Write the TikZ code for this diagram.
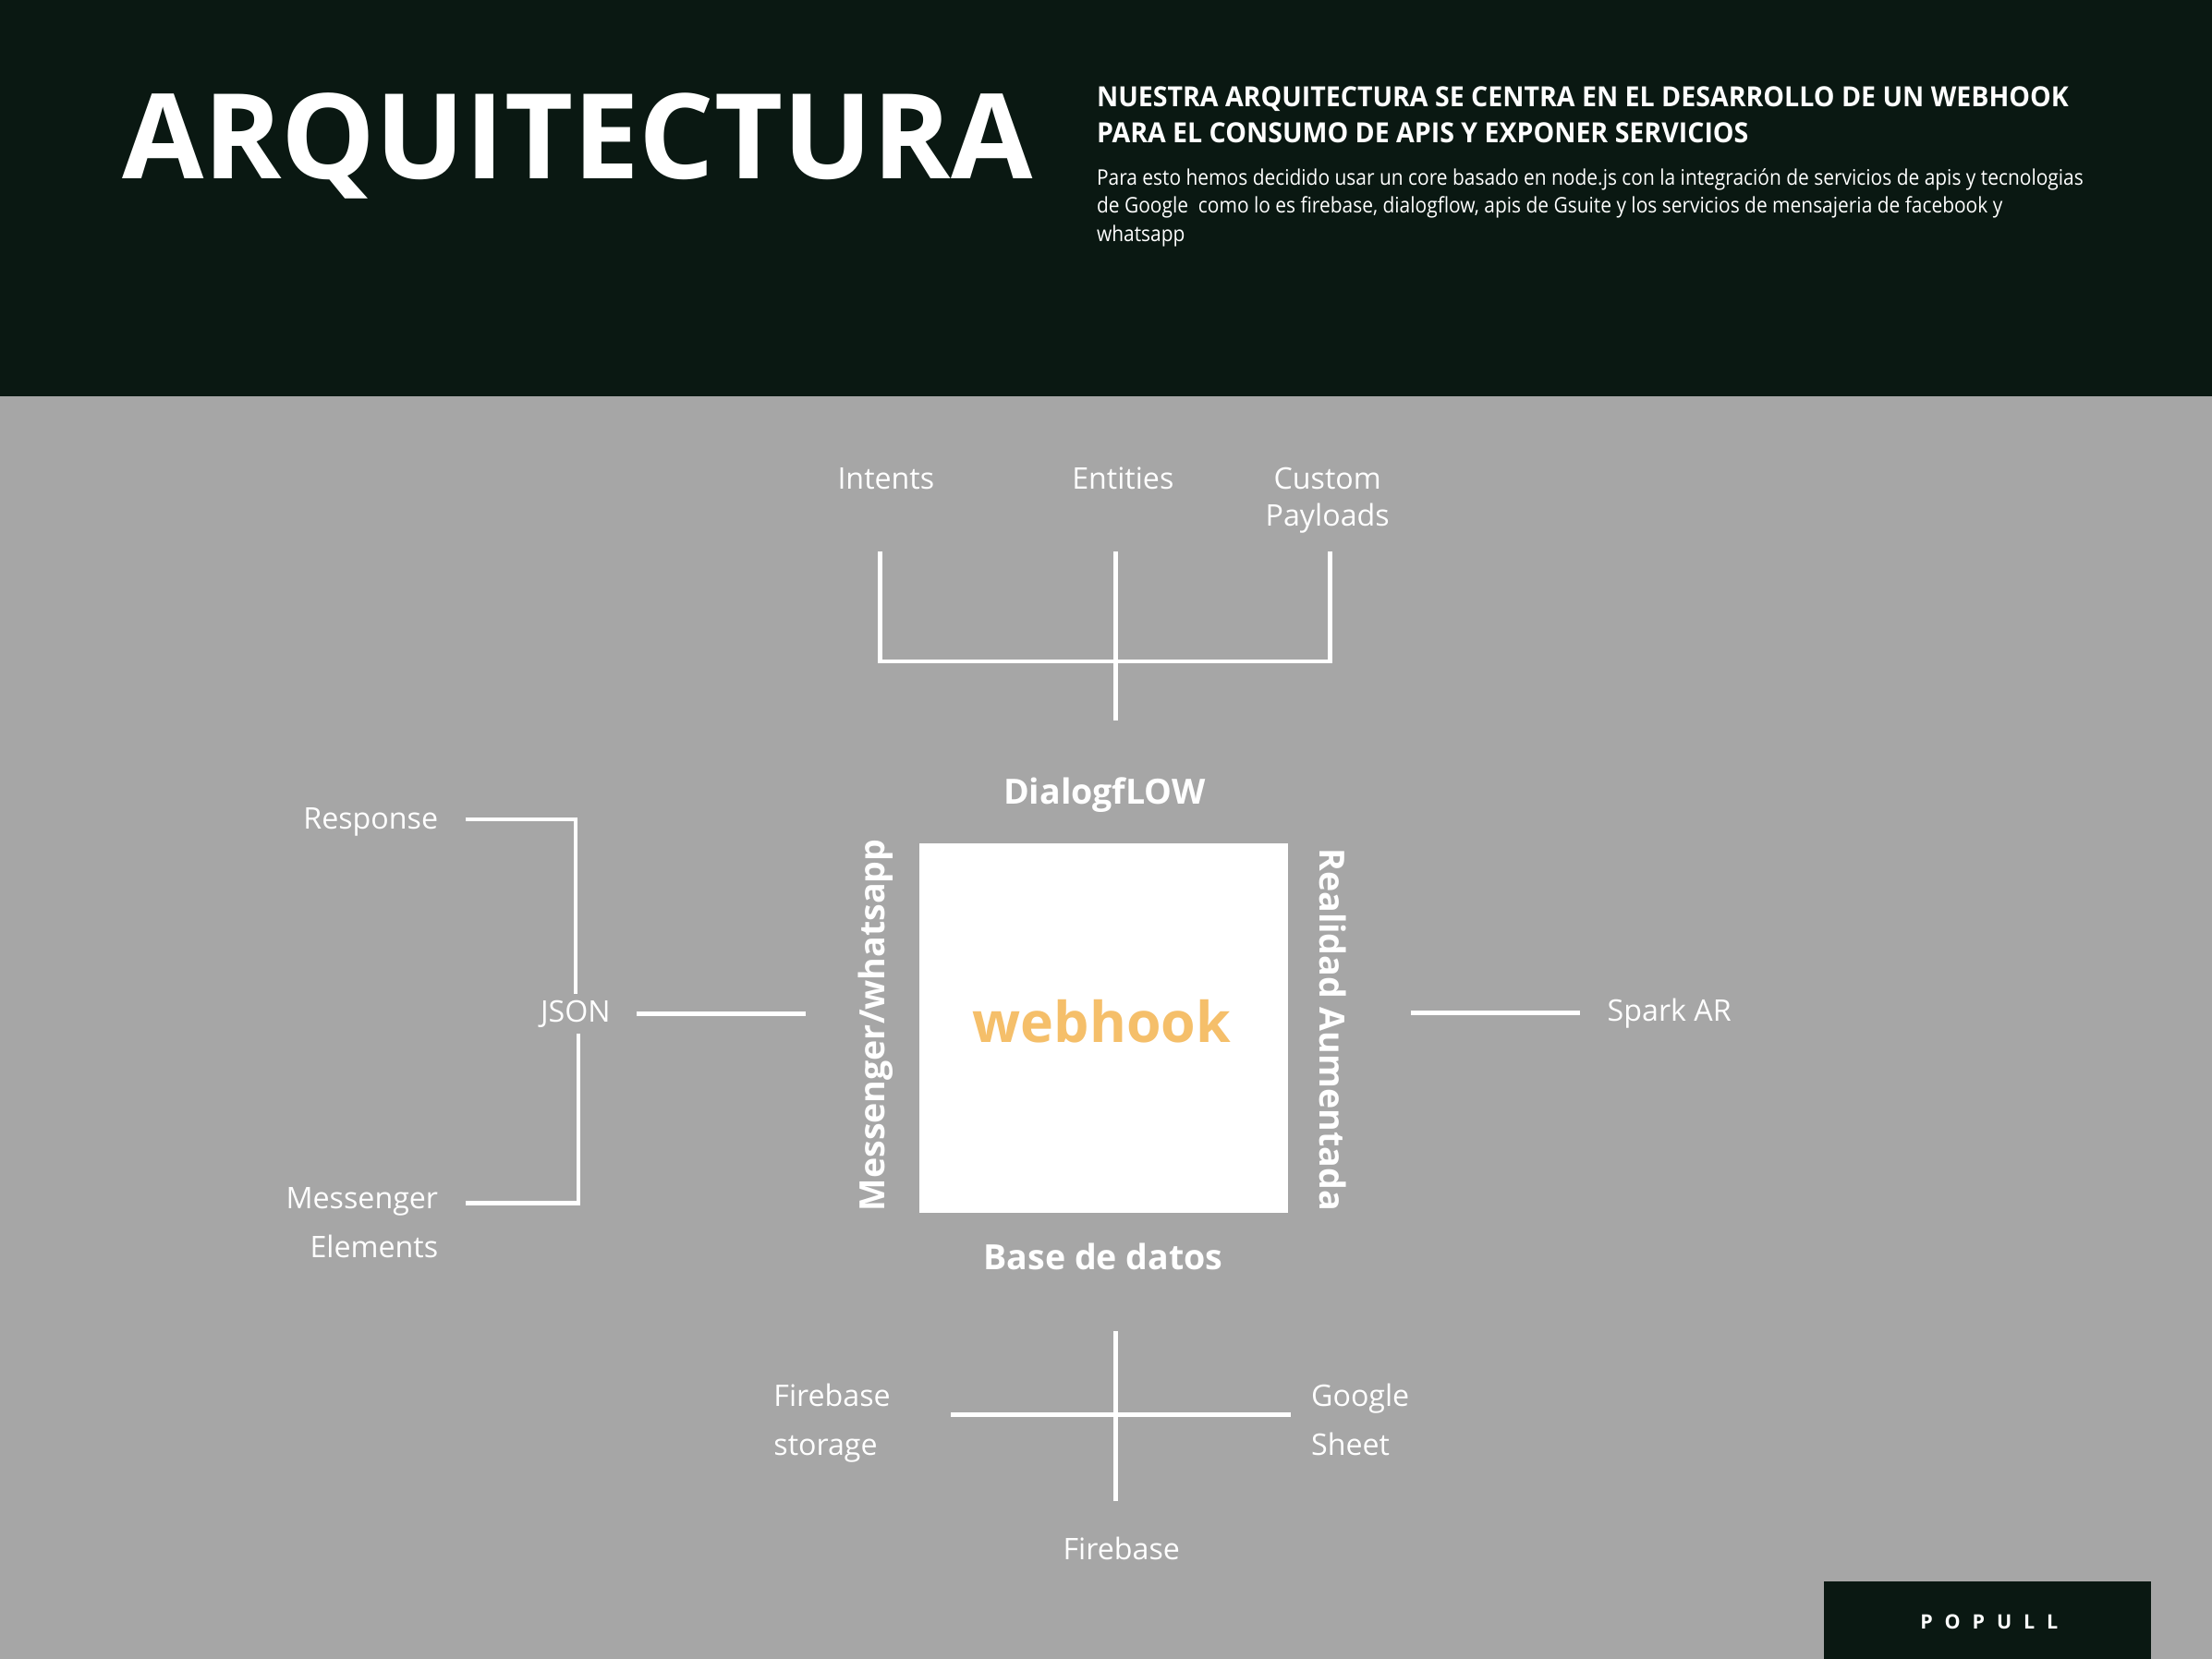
\documentclass[tikz,border=0pt]{standalone}
\usepackage{fontspec}
\setmainfont{Open Sans}
\newfontfamily\condfont{Open Sans}[FakeStretch=0.95]
\newfontfamily\descfont{Open Sans}[FakeStretch=0.9]
\newfontfamily\spacedfont{Open Sans}[LetterSpace=60]
\definecolor{popdark}{RGB}{10,24,18}
\definecolor{popgray}{RGB}{166,166,166}
\definecolor{hookorange}{RGB}{245,191,106}

\begin{document}
\begin{tikzpicture}[x={(0.015cm,0)}, y={(0,-0.015cm)},
  wire/.style={draw=white, line width=1.3pt},
  lbl/.style={text=white, inner sep=0pt, font=\fontsize{9}{11.1}\selectfont},
  hdr/.style={text=white, inner sep=0pt, font=\fontsize{10.5}{12}\selectfont\bfseries}]
  \useasboundingbox (0,0) rectangle (1568,1176);
  \fill[popgray] (0,0) rectangle (1568,1176);
  \fill[popdark] (0,0) rectangle (1568,281);

  % header
  \node[anchor=base west, inner sep=0pt, text=white, font=\fontsize{35.8}{40}\selectfont\bfseries] (title) at (86,127) {ARQUITECTURA};
  \node[anchor=base west, inner sep=0pt, text=white, align=left, font=\condfont\bfseries\fontsize{8.4}{10.7}\selectfont] (sub) at (777,101)
    {NUESTRA ARQUITECTURA SE CENTRA EN EL DESARROLLO DE UN WEBHOOK\\PARA EL CONSUMO DE APIS Y EXPONER SERVICIOS};
  \node[anchor=base west, inner sep=0pt, text=white, align=left, font=\descfont\fontsize{6.5}{8.5}\selectfont] (desc) at (777,171)
    {Para esto hemos decidido usar un core basado en node.js con la integración de servicios de apis y tecnologias\\
     de Google\ \ como lo es firebase, dialogflow, apis de Gsuite y los servicios de mensajeria de facebook y\\
     whatsapp};

  % webhook
  \fill[white] (652,598) rectangle (913,860);
  \node[inner sep=0pt, text=hookorange, font=\fontsize{17}{20}\selectfont\bfseries] (hook) at (781,724) {webhook};
  \node[hdr, anchor=base] (dlg) at (783,570) {DialogfLOW};
  \node[hdr, anchor=base] (bdd) at (782,900) {Base de datos};
  \node[hdr, rotate=90] (msg) at (621,727) {Messenger/whatsapp};
  \node[hdr, rotate=-90] (ra) at (945,730) {Realidad Aumentada};

  % dialogflow
  \node[lbl, anchor=base] (int) at (628,347) {Intents};
  \node[lbl, anchor=base] (ent) at (796,347) {Entities};
  \node[lbl, anchor=base, align=center] (cus) at (941,373) {Custom\\Payloads};
  \coordinate (intb) at (624,391);
  \coordinate (entb) at (791,391);
  \coordinate (cusb) at (943,391);
  \coordinate (jn) at (791,469);
  \coordinate (dlgt) at (791,511);
  \draw[wire] (intb) |- (jn) -| (cusb);
  \draw[wire] (entb) -- (dlgt);

  % messenger
  \node[lbl, anchor=base east] (resp) at (311,588) {Response};
  \node[lbl, anchor=base east, align=right, font=\fontsize{9}{15}\selectfont] (mel) at (311,892) {Messenger\\Elements};
  \node[lbl] (json) at (408,719) {JSON};
  \coordinate (r1) at (330,581);
  \coordinate (r2) at (408,705);
  \coordinate (m1) at (330,853);
  \coordinate (m2) at (410,733);
  \coordinate (j1) at (451,719);
  \coordinate (j2) at (571,719);
  \draw[wire] (r1) -| (r2);
  \draw[wire] (m1) -| (m2);
  \draw[wire] (j1) -- (j2);

  % realidad aumentada
  \node[lbl, anchor=base west] (spark) at (1139,724) {Spark AR};
  \coordinate (s1) at (1000,718);
  \coordinate (s2) at (1120,718);
  \draw[wire] (s1) -- (s2);

  % base de datos
  \node[lbl, anchor=base west, align=left, font=\fontsize{9}{15}\selectfont] (fst) at (548,1032) {Firebase\\storage};
  \node[lbl, anchor=base west, align=left, font=\fontsize{9}{15}\selectfont] (gsh) at (929,1032) {Google\\Sheet};
  \node[lbl, anchor=base] (fb) at (795,1106) {Firebase};
  \coordinate (b1) at (791,944);
  \coordinate (b2) at (791,1064);
  \coordinate (b3) at (674,1003);
  \coordinate (b4) at (915,1003);
  \draw[wire] (b1) -- (b2);
  \draw[wire] (b3) -- (b4);

  % footer
  \fill[popdark] (1293,1121) rectangle (1525,1176);
  \node[inner sep=0pt, text=white, font=\spacedfont\bfseries\fontsize{6}{7}\selectfont] (pop) at (1410,1150) {POPULL};
\end{tikzpicture}
\end{document}
